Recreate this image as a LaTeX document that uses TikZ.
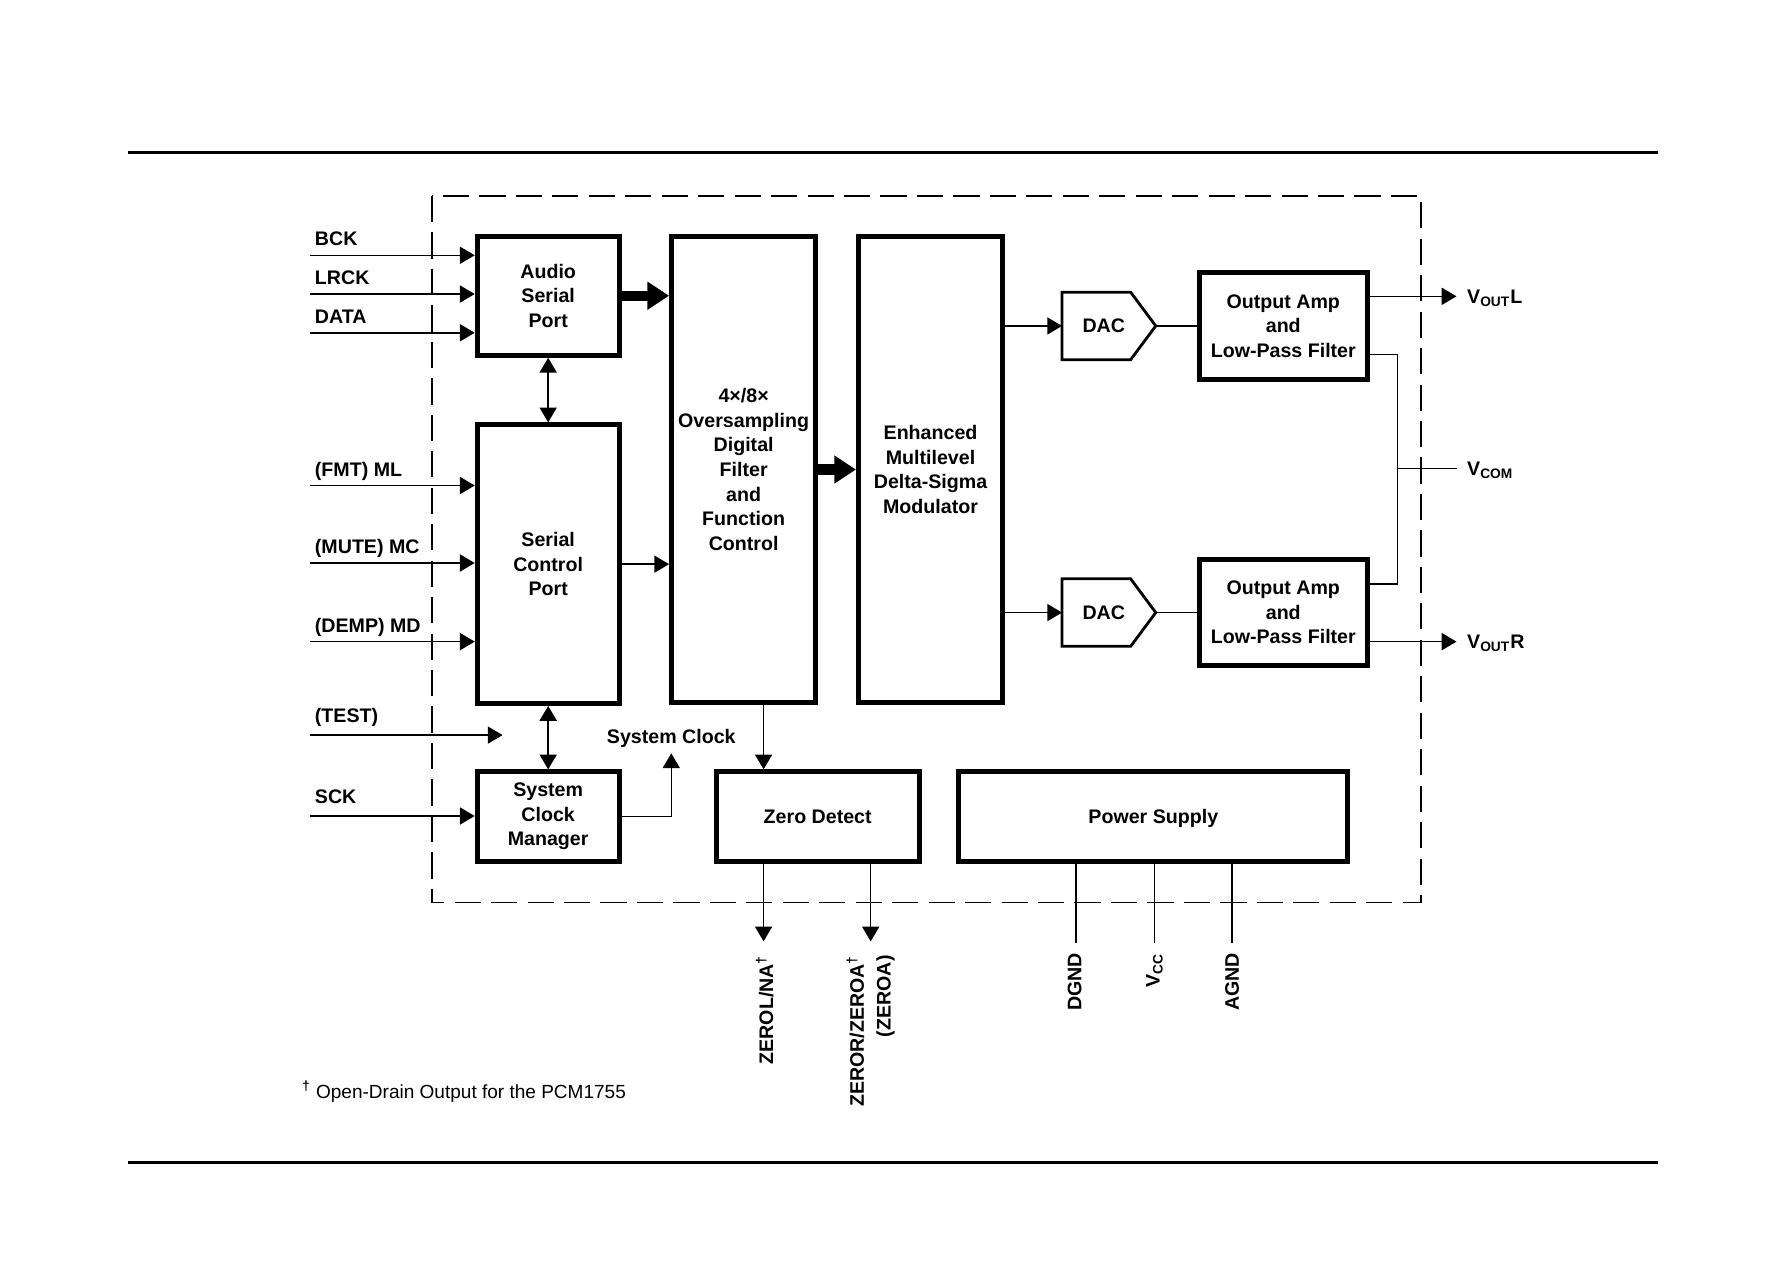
\documentclass[tikz,border=0pt]{standalone}
\usepackage{fontspec}
\setmainfont{Liberation Sans}
\usetikzlibrary{arrows.meta,calc}

\begin{document}
\begin{tikzpicture}[x=0.02cm,y=-0.02cm,
    >={Triangle[length=0.26cm,width=0.3cm]},
    blk/.style={draw,line width=2.5pt,align=center,inner sep=0pt,
      font=\bfseries\fontsize{9.8}{12.3}\selectfont},
    lbl/.style={inner sep=0pt,font=\bfseries\fontsize{9.8}{12.3}\selectfont},
    wire/.style={line width=0.75pt},
    sig/.style={wire,->},
    bus/.style={line width=0.18cm,-{Triangle[length=0.38cm,width=0.47cm]}},
    dacline/.style={line width=1.4pt,line join=miter}
  ]
  \useasboundingbox (0,0) rectangle (1568,1108);
  \draw[line width=1.65pt] (112,134) -- (1455,134);
  \draw[line width=1.2pt] (112,1020) -- (1455,1020);
  \draw[line width=0.85pt,dash pattern=on 0.46cm off 0.18cm] (379,172) rectangle (1247,792);

  \node[blk,minimum width=2.49cm,minimum height=2.09cm] (asp) at (481,259.5) {Audio\\Serial\\Port};
  \node[blk,minimum width=2.49cm,minimum height=4.89cm] (scp) at (481,495) {Serial\\Control\\Port};
  \node[blk,minimum width=2.49cm,minimum height=1.57cm] (scm) at (481,716.5) {System\\Clock\\Manager};
  \node[blk,minimum width=2.53cm,minimum height=8.19cm] (flt) at (652.5,412)
    {4×/8×\\Oversampling\\Digital\\Filter\\and\\Function\\Control};
  \node[blk,minimum width=2.53cm,minimum height=8.19cm] (mod) at (816.5,412)
    {Enhanced\\Multilevel\\Delta-Sigma\\Modulator};
  \node[blk,minimum width=3.57cm,minimum height=1.57cm] (zd) at (717.5,716.5) {Zero Detect};
  \node[blk,minimum width=6.83cm,minimum height=1.57cm,text depth=0pt] (ps) at (1012,716.5) {Power Supply};
  \node[blk,minimum width=2.95cm,minimum height=1.87cm] (amp1) at (1126,286) {Output Amp\\and\\Low-Pass Filter};
  \node[blk,minimum width=2.95cm,minimum height=1.87cm] (amp2) at (1126,537.5) {Output Amp\\and\\Low-Pass Filter};
  \node[lbl,minimum width=1.63cm,minimum height=1.17cm] (dac1) at (973,286) {DAC\hspace*{0.18cm}};
  \node[lbl,minimum width=1.63cm,minimum height=1.17cm] (dac2) at (973,537.5) {DAC\hspace*{0.18cm}};
  \draw[dacline] (dac1.north west) -- ([xshift=-0.44cm]dac1.north east) -- (dac1.east)
    -- ([xshift=-0.44cm]dac1.south east) -- (dac1.south west) -- cycle;
  \draw[dacline] (dac2.north west) -- ([xshift=-0.44cm]dac2.north east) -- (dac2.east)
    -- ([xshift=-0.44cm]dac2.south east) -- (dac2.south west) -- cycle;

  \coordinate (bck) at (272,224);
  \coordinate (lrck) at (272,258);
  \coordinate (data) at (272,292);
  \coordinate (fmt) at (272,426);
  \coordinate (mute) at (272,494);
  \coordinate (demp) at (272,563);
  \coordinate (test) at (272,645);
  \coordinate (testend) at (441,645);
  \coordinate (sck) at (272,716);
  \node[lbl,anchor=base west] (bckl) at (276,215) {BCK};
  \node[lbl,anchor=base west] (lrckl) at (276,250) {LRCK};
  \node[lbl,anchor=base west] (datal) at (276,284) {DATA};
  \node[lbl,anchor=base west] (fmtl) at (276,418) {(FMT) ML};
  \node[lbl,anchor=base west] (mutel) at (276,486) {(MUTE) MC};
  \node[lbl,anchor=base west] (templ) at (276,555) {(DEMP) MD};
  \node[lbl,anchor=base west] (testl) at (276,634) {(TEST)};
  \node[lbl,anchor=base west] (sckl) at (276,705) {SCK};
  \draw[sig] (bck) -- (bck -| asp.west);
  \draw[sig] (lrck) -- (lrck -| asp.west);
  \draw[sig] (data) -- (data -| asp.west);
  \draw[sig] (fmt) -- (fmt -| scp.west);
  \draw[sig] (mute) -- (mute -| scp.west);
  \draw[sig] (demp) -- (demp -| scp.west);
  \draw[sig] (test) -- (testend);
  \draw[sig] (sck) -- (sck -| scm.west);

  \draw[bus] (asp.east) -- (asp.east -| flt.west);
  \draw[bus] (flt.east) -- (flt.east -| mod.west);
  \draw[wire,<->] (asp.south) -- (scp.north);
  \draw[wire,<->] (scp.south) -- (scm.north);
  \draw[sig] (scp.east) -- (scp.east -| flt.west);
  \coordinate (sclk) at (589,661);
  \draw[sig] (scm.east) -| (sclk);
  \node[lbl,anchor=base] (sclkl) at (589,652) {System Clock};

  \draw[sig] (dac1.west -| mod.east) -- (dac1.west);
  \draw[sig] (dac2.west -| mod.east) -- (dac2.west);
  \draw[wire] (dac1.east) -- (amp1.west);
  \draw[wire] (dac2.east) -- (amp2.west);

  \coordinate (voutl) at (1278,260);
  \coordinate (voutr) at (1278,563);
  \coordinate (vj) at (1226,411);
  \coordinate (vcom) at (1278,411);
  \draw[sig] (voutl -| amp1.east) -- (voutl);
  \draw[sig] (voutr -| amp2.east) -- (voutr);
  \draw[wire] ([yshift=-0.5cm]amp1.east) -| (vj) |- ([yshift=0.5cm]amp2.east);
  \draw[wire] (vj) -- (vcom);
  \node[lbl,anchor=base west] (voutll) at (1287,266) {V\textsubscript{OUT}L};
  \node[lbl,anchor=base west] (vcoml) at (1287,417) {V\textsubscript{COM}};
  \node[lbl,anchor=base west] (voutrl) at (1287,569) {V\textsubscript{OUT}R};

  \coordinate (zerol) at (670,826);
  \coordinate (zeror) at (764,826);
  \draw[sig] (zerol |- flt.south) -- (zerol |- zd.north);
  \draw[sig] (zerol |- zd.south) -- (zerol);
  \draw[sig] (zeror |- zd.south) -- (zeror);
  \node[lbl,rotate=90,anchor=east] (zerolt) at (671,838) {ZEROL/NA\textsuperscript{†}};
  \node[lbl,rotate=90,anchor=east,align=right] (zerort) at (764,838) {ZEROR/ZEROA\textsuperscript{†}\\[1pt](ZEROA)};

  \coordinate (dgnd) at (944,827);
  \coordinate (vcc) at (1013,827);
  \coordinate (agnd) at (1081,827);
  \draw[wire] (dgnd |- ps.south) -- (dgnd);
  \draw[wire] (vcc |- ps.south) -- (vcc);
  \draw[wire] (agnd |- ps.south) -- (agnd);
  \node[lbl,rotate=90,anchor=east] (dgndl) at (943,836) {DGND};
  \node[lbl,rotate=90,anchor=east] (vccl) at (1013,836) {V\textsubscript{CC}};
  \node[lbl,rotate=90,anchor=east] (agndl) at (1081,836) {AGND};

  \node[anchor=base west,inner sep=0pt,font=\fontsize{9.5}{11}\selectfont] (note) at (265,964)
    {\textsuperscript{\bfseries †} Open-Drain Output for the PCM1755};
\end{tikzpicture}
\end{document}
